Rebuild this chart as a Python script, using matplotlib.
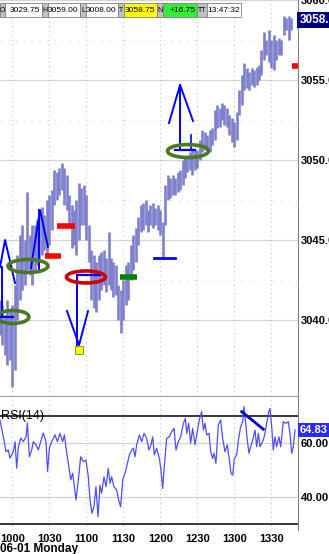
import matplotlib
matplotlib.use('Agg')
import matplotlib.pyplot as plt
from matplotlib.patches import Ellipse, Rectangle
import numpy as np

plt.rcParams['font.family'] = ['Liberation Sans Narrow', 'Liberation Sans', 'DejaVu Sans']

# price bars, 2-minute steps starting 09:50 (minutes after midnight)
bar_start = 590
bar_step = 2
highs = [3041.25, 3040.94, 3040.31, 3041.25, 3040.63, 3040.94, 3042.19, 3044.06, 3045.31, 3045.94,
         3045.0, 3048.0, 3045.31, 3045.94, 3045.94, 3046.25, 3046.56, 3047.06, 3046.56, 3047.5,
         3047.81, 3048.13, 3049.38, 3049.25, 3049.5, 3049.81, 3049.5, 3049.06, 3047.81, 3047.19,
         3046.88, 3047.5, 3048.56, 3048.25, 3048.44, 3047.81, 3045.94, 3044.38, 3044.06, 3043.63,
         3044.06, 3044.25, 3044.38, 3043.88, 3045.5, 3043.88, 3043.63, 3043.44, 3042.19, 3041.88,
         3042.5, 3043.44, 3043.63, 3044.69, 3045.31, 3045.75, 3046.44, 3047.19, 3047.31, 3047.5,
         3046.88, 3047.19, 3047.31, 3047.0, 3047.19, 3046.88, 3046.13, 3048.44, 3049.06, 3048.88,
         3049.06, 3048.88, 3049.25, 3049.38, 3050.0, 3050.13, 3050.31, 3050.5, 3050.75, 3050.63,
         3050.63, 3051.25, 3051.88, 3051.75, 3051.56, 3051.88, 3052.0, 3053.13, 3053.44, 3053.25,
         3053.56, 3053.44, 3053.25, 3052.81, 3052.63, 3052.38, 3053.0, 3054.38, 3055.31, 3056.06,
         3055.75, 3055.5, 3055.75, 3055.63, 3055.81, 3055.94, 3056.88, 3058.0, 3057.5, 3058.13,
         3057.5, 3057.81, 3057.5, 3057.63, 3057.5, 3059.0, 3058.88, 3059.0, 3058.88]
lows = [3039.06, 3038.44, 3037.81, 3037.19, 3037.5, 3035.81, 3036.88, 3040.0, 3041.25, 3041.88,
        3042.19, 3043.13, 3042.81, 3042.19, 3043.13, 3043.44, 3043.63, 3044.06, 3044.38, 3044.06,
        3044.69, 3045.63, 3047.19, 3047.5, 3047.81, 3048.13, 3047.19, 3046.88, 3045.94, 3044.5,
        3044.69, 3044.06, 3045.0, 3045.94, 3045.94, 3045.0, 3043.63, 3041.25, 3040.75, 3040.5,
        3041.25, 3041.88, 3042.19, 3041.75, 3042.19, 3041.88, 3041.44, 3041.56, 3040.0, 3039.19,
        3040.0, 3040.94, 3041.25, 3042.5, 3043.13, 3043.63, 3044.69, 3045.5, 3045.63, 3045.94,
        3045.5, 3045.94, 3045.75, 3045.94, 3045.63, 3045.31, 3043.94, 3045.94, 3047.5, 3047.63,
        3047.81, 3047.81, 3048.0, 3048.13, 3048.44, 3048.88, 3049.25, 3049.38, 3049.06, 3049.38,
        3049.5, 3050.0, 3050.5, 3050.63, 3050.75, 3050.5, 3050.94, 3051.25, 3052.0, 3052.06,
        3052.5, 3052.19, 3052.06, 3051.56, 3051.13, 3050.81, 3051.25, 3052.81, 3053.44, 3054.38,
        3054.5, 3054.38, 3054.69, 3054.56, 3054.69, 3055.0, 3055.31, 3056.25, 3056.56, 3056.13,
        3055.75, 3055.63, 3056.25, 3056.56, 3056.56, 3057.81, 3058.13, 3057.5, 3058.13]

# RSI(14) readings (minute of day, value)
rsi_t = [590.0, 592.7, 594.9, 596.8, 598.1, 600.8, 602.2, 603.5, 604.9, 606.8, 608.9, 611.1, 612.2,
         613.8, 615.7, 617.0, 619.2, 621.1, 623.0, 625.1, 627.3, 628.6, 630.0, 631.9, 634.6, 636.5,
         638.6, 640.8, 642.2, 644.1, 645.4, 647.3, 648.9, 651.6, 653.5, 655.4, 657.6, 659.7, 661.6,
         663.0, 664.6, 666.2, 667.8, 669.5, 671.1, 672.4, 674.3, 676.0, 677.8, 679.2, 680.5, 682.4,
         684.6, 686.5, 687.8, 689.5, 691.4, 692.7, 694.9, 696.8, 698.1, 699.5, 700.8, 703.0, 704.9,
         706.8, 708.9, 710.8, 712.4, 713.8, 715.1, 717.0, 719.2, 720.5, 721.9, 723.2, 725.1, 727.3,
         729.2, 731.1, 732.7, 734.6, 736.5, 738.7, 740.3, 741.4, 743.0, 744.6, 746.2, 748.1, 750.0,
         751.6, 753.5, 754.9, 756.2, 757.6, 759.5, 760.8, 762.4, 763.5, 765.1, 767.0, 768.9, 770.5,
         772.4, 774.3, 776.0, 777.3, 778.7, 780.0, 781.9, 783.3, 785.1, 786.8, 787.8, 789.2, 790.5,
         791.9, 793.3, 794.9, 796.8, 798.1, 799.5, 800.8, 802.2, 803.5, 804.9, 806.2, 807.6, 808.9,
         810.3, 811.6, 813.0, 814.3, 816.2, 817.6, 819.7, 821.9, 823.8, 825.1, 826.5, 827.8, 829.2]
rsi_v = [68.5, 62.3, 56.8, 57.4, 54.4, 56.8, 60.5, 50.7, 58.6, 61.8, 60.5, 62.3, 67.4,
         54.9, 57.4, 60.5, 59.3, 57.4, 60.5, 63.7, 60.5, 49.4, 58.1, 60.5, 63.0, 60.5,
         63.6, 60.5, 63.0, 56.2, 52.5, 46.3, 48.8, 38.9, 46.3, 54.9, 53.1, 53.7, 47.5,
         38.9, 34.0, 36.4, 43.8, 32.7, 44.4, 41.4, 47.5, 43.8, 50.6, 45.1, 47.5, 43.8,
         42.6, 38.3, 36.4, 46.3, 48.8, 51.2, 55.6, 57.4, 58.0, 54.9, 59.3, 63.0, 60.5,
         63.6, 61.7, 57.4, 59.3, 62.3, 55.6, 58.0, 54.3, 50.0, 43.2, 51.2, 61.7, 62.3,
         64.2, 65.4, 57.4, 60.5, 62.3, 67.3, 69.1, 63.6, 67.3, 59.9, 65.4, 59.3, 64.2,
         68.5, 71.6, 64.8, 67.3, 63.0, 63.6, 56.8, 54.3, 56.2, 52.5, 66.7, 68.5, 61.7,
         56.8, 59.3, 53.7, 48.8, 48.1, 54.3, 55.6, 61.1, 66.0, 67.9, 73.5, 67.3, 61.1,
         56.2, 58.6, 61.1, 64.8, 58.6, 63.6, 58.6, 59.9, 61.1, 63.6, 67.3, 71.0, 72.8,
         66.0, 57.4, 62.3, 58.6, 62.3, 58.6, 67.9, 67.3, 67.9, 63.6, 56.2, 58.6, 64.83]

time_ticks = [600, 630, 660, 690, 720, 750, 780, 810]
time_labels = ['1000', '1030', '1100', '1130', '1200', '1230', '1300', '1330']
price_ticks = [3040, 3045, 3050, 3055, 3060]
last_price = 3058.75
last_rsi = 64.83

# header cells: label, value, colour of value box
header = [('O', '3029.75', 'white'), ('H', '3059.00', 'white'), ('L', '3008.00', 'white'),
          ('T', '3058.75', '#ffff00'), ('N', '+16.75', '#33ee33'), ('TT', '13:47:32', 'white')]

W, H = 329, 554
fig = plt.figure(figsize=(W / 100, H / 100), dpi=100)
ax = fig.add_axes([0, 1 - 396 / H, 298 / W, 396 / H])
ax2 = fig.add_axes([0, 1 - 530 / H, 298 / W, 134 / H], sharex=ax)

bar_t = bar_start + bar_step * np.arange(len(highs))
xmin, xmax = 590, 590 + 298 / 1.2333

# grid
for p in price_ticks:
    ax.axhline(p, color='#d4d4d4', lw=0.9, zorder=0)
for p in np.array(price_ticks[:-1]) + 2.5:
    ax.axhline(p, color='#d8d8d8', lw=0.8, ls=(0, (1, 6)), zorder=0)
for t in time_ticks:
    ax.axvline(t, color='#c4c4c4', lw=0.8, ls=(0, (1, 3)), zorder=0)
    ax2.axvline(t, color='#c4c4c4', lw=0.8, ls=(0, (1, 3)), zorder=0)

ax.vlines(bar_t, lows, highs, color='#7f80cc', lw=1.9, zorder=2)

blue = '#0000ff'
# arrows / marks
ax.plot([590, 594.1, 602.2], [3043.31, 3045.0, 3042.31], color=blue, lw=1.4, zorder=4)
ax.plot([591.4, 591.4], [3043.31, 3040.19], color=blue, lw=1.4, zorder=4)
ax.plot([590, 600.5], [3040.19, 3040.19], color=blue, lw=1.6, zorder=4)

ax.plot([615.1, 622.4, 628.9], [3043.25, 3046.88, 3044.56], color=blue, lw=1.4, zorder=4)
ax.plot([621.6, 621.6], [3046.88, 3043.0], color=blue, lw=1.4, zorder=4)
ax.plot([606.2, 622.4], [3043.0, 3043.0], color=blue, lw=1.6, zorder=4)

ax.plot([644.3, 654.1, 661.4], [3040.56, 3038.44, 3040.56], color=blue, lw=1.4, zorder=4)
ax.plot([652.4, 652.4], [3038.44, 3042.81], color=blue, lw=1.4, zorder=4)
ax.plot([652.4, 671.1], [3042.81, 3042.81], color=blue, lw=1.6, zorder=4)
ax.plot([654.1], [3038.1], marker='s', ms=5.5, mfc='#ffff00', mec='#808000', mew=0.6, zorder=5)

ax.plot([714.9, 731.9], [3043.875, 3043.875], color=blue, lw=2, zorder=4)

ax.plot([727.0, 736.0, 746.5], [3052.31, 3054.69, 3052.44], color=blue, lw=1.4, zorder=4)
ax.plot([736.0, 736.0], [3054.69, 3050.62], color=blue, lw=1.4, zorder=4)
ax.plot([731.9, 748.1], [3050.62, 3050.62], color=blue, lw=1.6, zorder=4)
ax.plot([744.9, 744.9], [3051.56, 3050.62], color=blue, lw=1.2, zorder=4)

for cx, cy, w, h, c in [(600.5, 3040.19, 25.9, 0.81, '#4b7a1e'), (612.7, 3043.375, 32.4, 0.81, '#4b7a1e'),
                        (659.7, 3042.69, 31.6, 0.75, '#cc0000'), (742.4, 3050.56, 33.2, 0.81, '#4b7a1e')]:
    ax.add_patch(Ellipse((cx, cy), w, h, fill=False, ec=c, lw=2.6, zorder=6))

ax.plot([636.2, 650.8], [3045.875, 3045.875], color='#ff0000', lw=4, solid_capstyle='butt', zorder=5)
ax.plot([626.5, 639.5], [3044.0, 3044.0], color='#ff0000', lw=4, solid_capstyle='butt', zorder=5)
ax.plot([687.3, 701.1], [3042.69, 3042.69], color='#008000', lw=4, solid_capstyle='butt', zorder=5)
ax.plot([826.8, 831.6], [3055.875, 3055.875], color='#ff0000', lw=4, solid_capstyle='butt', zorder=5)

ax.set_xlim(xmin, xmax)
ax.set_ylim(3060 - 396 / 16, 3060)
ax.yaxis.tick_right()
ax.set_yticks(price_ticks)
ax.set_yticklabels(['%.1f' % p for p in price_ticks])
ax.tick_params(axis='y', length=0, pad=2, labelsize=8)
ax.tick_params(axis='x', length=0, labelbottom=False)
for lab in ax.get_yticklabels():
    lab.set_fontweight('bold')
for s in ['left', 'top']:
    ax.spines[s].set_visible(False)
ax.spines['right'].set_color('#808080')
ax.spines['bottom'].set_color('#a0a0a0')
ax.text(1.006, last_price, '3058.75', transform=ax.get_yaxis_transform(), ha='left', va='center',
        color='white', fontsize=8.5, fontweight='bold',
        bbox=dict(boxstyle='square,pad=0.2', fc='#00007f', ec='none'))

# RSI panel
ax2.plot(rsi_t, rsi_v, color='#4d4dff', lw=0.9, zorder=3)
ax2.plot([786.0, 803.5], [71.6, 65.1], color='#0000cc', lw=2, zorder=4)
for p in [40, 60]:
    ax2.axhline(p, color='#d4d4d4', lw=0.9, zorder=0)
for p in [30, 70]:
    ax2.axhline(p, color='black', lw=1.1, zorder=2)
ax2.set_ylim(40 - 33 / 2.7, 60 + 47 / 2.7)
ax2.yaxis.tick_right()
ax2.set_yticks([40, 60])
ax2.set_yticklabels(['40.00', '60.00'])
ax2.tick_params(axis='y', length=0, pad=2, labelsize=8)
ax2.set_xticks(time_ticks)
ax2.set_xticklabels(time_labels)
ax2.tick_params(axis='x', length=0, pad=3, labelsize=8)
for lab in ax2.get_yticklabels() + ax2.get_xticklabels():
    lab.set_fontweight('bold')
for s in ['left', 'bottom']:
    ax2.spines[s].set_visible(False)
ax2.spines['right'].set_color('#808080')
ax2.spines['top'].set_color('#a0a0a0')
ax2.text(1.006, last_rsi, '64.83', transform=ax2.get_yaxis_transform(), ha='left', va='center',
         color='white', fontsize=8, fontweight='bold',
         bbox=dict(boxstyle='square,pad=0.2', fc='#2a2aff', ec='none'))
ax2.text(0.004, 0.85, 'RSI(14)', transform=ax2.transAxes, ha='left', va='center', fontsize=9)

fig.text(0.0, 1 - 549 / H, '06-01 Monday', ha='left', va='center', fontsize=8.5, fontweight='bold')

# header strip
cells = [(0, 5), (5, 42), (42, 48), (48, 80), (80, 86), (86, 118), (118, 124), (124, 157),
         (157, 163), (163, 197), (197, 207), (207, 241)]
for i, (lab, val, col) in enumerate(header):
    for j, (txt, fc) in enumerate([(lab, '#c0c0c0'), (val, col)]):
        x0, x1 = cells[2 * i + j]
        fig.add_artist(Rectangle((x0 / W, 1 - 17 / H), (x1 - x0) / W, 14 / H, transform=fig.transFigure,
                                 fc=fc, ec='#808080', lw=0.6, zorder=10))
        if j == 0:
            fig.text((x0 + x1) / 2 / W, 1 - 10 / H, txt, ha='center', va='center', fontsize=5, zorder=11)
        else:
            fig.text((x1 - 1.5) / W, 1 - 10 / H, txt, ha='right', va='center', fontsize=6, zorder=11)

fig.savefig('out.png', dpi=100, facecolor='white')
